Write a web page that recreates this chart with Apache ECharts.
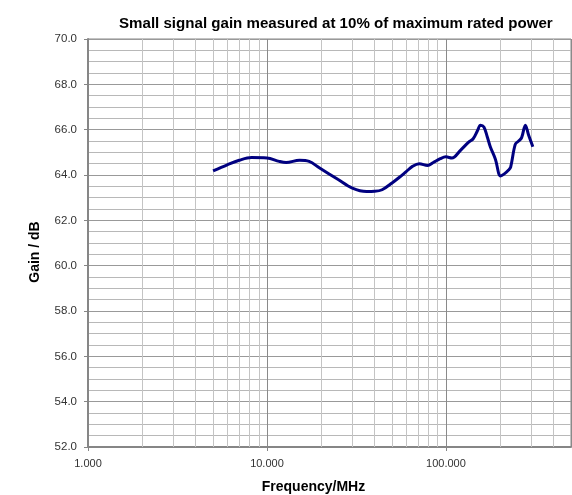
<!DOCTYPE html>
<html>
<head>
	<meta charset="utf-8">
	<title></title>
	<script src="https://cdn.jsdelivr.net/npm/echarts@6/dist/echarts.min.js"></script>
	<style>
	html, body { margin: 0; padding: 0; background: #ffffff; }
	#main { width: 572px; height: 495px; }
	</style>
</head>
<body>
	<div id="main"></div>
	<script>
		var freqMHz = [5, 6, 7, 8.2, 10, 11.7, 12.8, 15.2, 17.2, 19.6, 25, 30, 36, 40, 44, 50, 55, 60, 65, 71, 79, 85, 93,
			100, 108, 121, 134, 142, 150, 156, 163, 170, 177, 189, 202, 212, 224, 230, 244, 255, 265, 278, 290, 306];
		var gainDb = [64.18, 64.45, 64.65, 64.77, 64.75, 64.6, 64.55, 64.65, 64.6, 64.32, 63.8, 63.42, 63.27, 63.28, 63.35, 63.65, 63.9, 64.15, 64.38, 64.5, 64.42, 64.55, 64.72,
			64.8, 64.75, 65.1, 65.45, 65.6, 65.95, 66.2, 66.12, 65.7, 65.25, 64.7, 63.96, 64.05, 64.22, 64.35, 65.35, 65.5, 65.65, 66.2, 65.75, 65.25];
		// minor vertical grid positions (2..9 per decade)
		var minorFreqs = [2, 3, 4, 5, 6, 7, 8, 9, 20, 30, 40, 50, 60, 70, 80, 90, 200, 300, 400];

		var myChart = echarts.init(document.getElementById('main'));

		var points = [];
		for (var i = 0; i < freqMHz.length; i++) {
			points.push([freqMHz[i], gainDb[i]]);
		}
		var minorLines = minorFreqs.map(function (f) { return { xAxis: f }; });

		var option = {
			animation: false,
			textStyle: { fontFamily: 'Liberation Sans' },
			title: {
				text: 'Small signal gain measured at 10% of maximum rated power',
				left: 114,
				top: 11,
				textStyle: { fontSize: 15.1, fontWeight: 'bold', color: '#000' }
			},
			grid: {
				left: 88, right: 1, top: 39, bottom: 48,
				outerBoundsMode: 'none',
				containLabel: false,
				show: true, borderColor: '#868686', borderWidth: 1
			},
			xAxis: {
				type: 'log',
				logBase: 10,
				min: 1,
				max: 500,
				name: 'Frequency/MHz',
				nameLocation: 'middle',
				nameGap: 33,
				nameTextStyle: { fontSize: 14, fontWeight: 'bold', color: '#000', padding: [0, 32, 0, 0] },
				axisLine: { lineStyle: { color: '#868686', width: 2 } },
				axisTick: { show: true, length: 4, lineStyle: { color: '#868686' } },
				axisLabel: {
					fontSize: 11, color: '#333', margin: 11, showMaxLabel: false,
					formatter: function (v) {
						var l = Math.log10(v);
						return Math.abs(l - Math.round(l)) < 1e-6 ? v.toFixed(3) : '';
					}
				},
				splitLine: { show: true, lineStyle: { color: '#8a8a8a', width: 1 } }
			},
			yAxis: {
				type: 'value',
				min: 52,
				max: 70,
				interval: 2,
				name: 'Gain / dB',
				nameLocation: 'middle',
				nameRotate: 90,
				nameGap: 46,
				nameTextStyle: { fontSize: 14, fontWeight: 'bold', color: '#000', padding: [0, 18, 0, 0] },
				axisLine: { show: true, lineStyle: { color: '#868686', width: 2 } },
				axisTick: { show: true, length: 4, lineStyle: { color: '#868686' } },
				axisLabel: {
					fontSize: 11.5, color: '#333', margin: 11,
					formatter: function (v) { return v.toFixed(1); }
				},
				splitLine: { show: true, lineStyle: { color: '#999999', width: 1 } },
				minorTick: { show: false, splitNumber: 4 },
				minorSplitLine: { show: true, lineStyle: { color: '#b8b8b8', width: 1 } }
			},
			series: [
				{
					type: 'line',
					data: [],
					z: 1,
					silent: true,
					markLine: {
						silent: true,
						symbol: 'none',
						label: { show: false },
						lineStyle: { color: '#c4c4c4', type: 'solid', width: 1 },
						data: minorLines
					}
				},
				{
					type: 'line',
					data: points,
					z: 5,
					smooth: 0.35,
					showSymbol: false,
					lineStyle: { color: '#000080', width: 3 }
				}
			]
		};
		myChart.setOption(option);
	</script>
</body>
</html>
